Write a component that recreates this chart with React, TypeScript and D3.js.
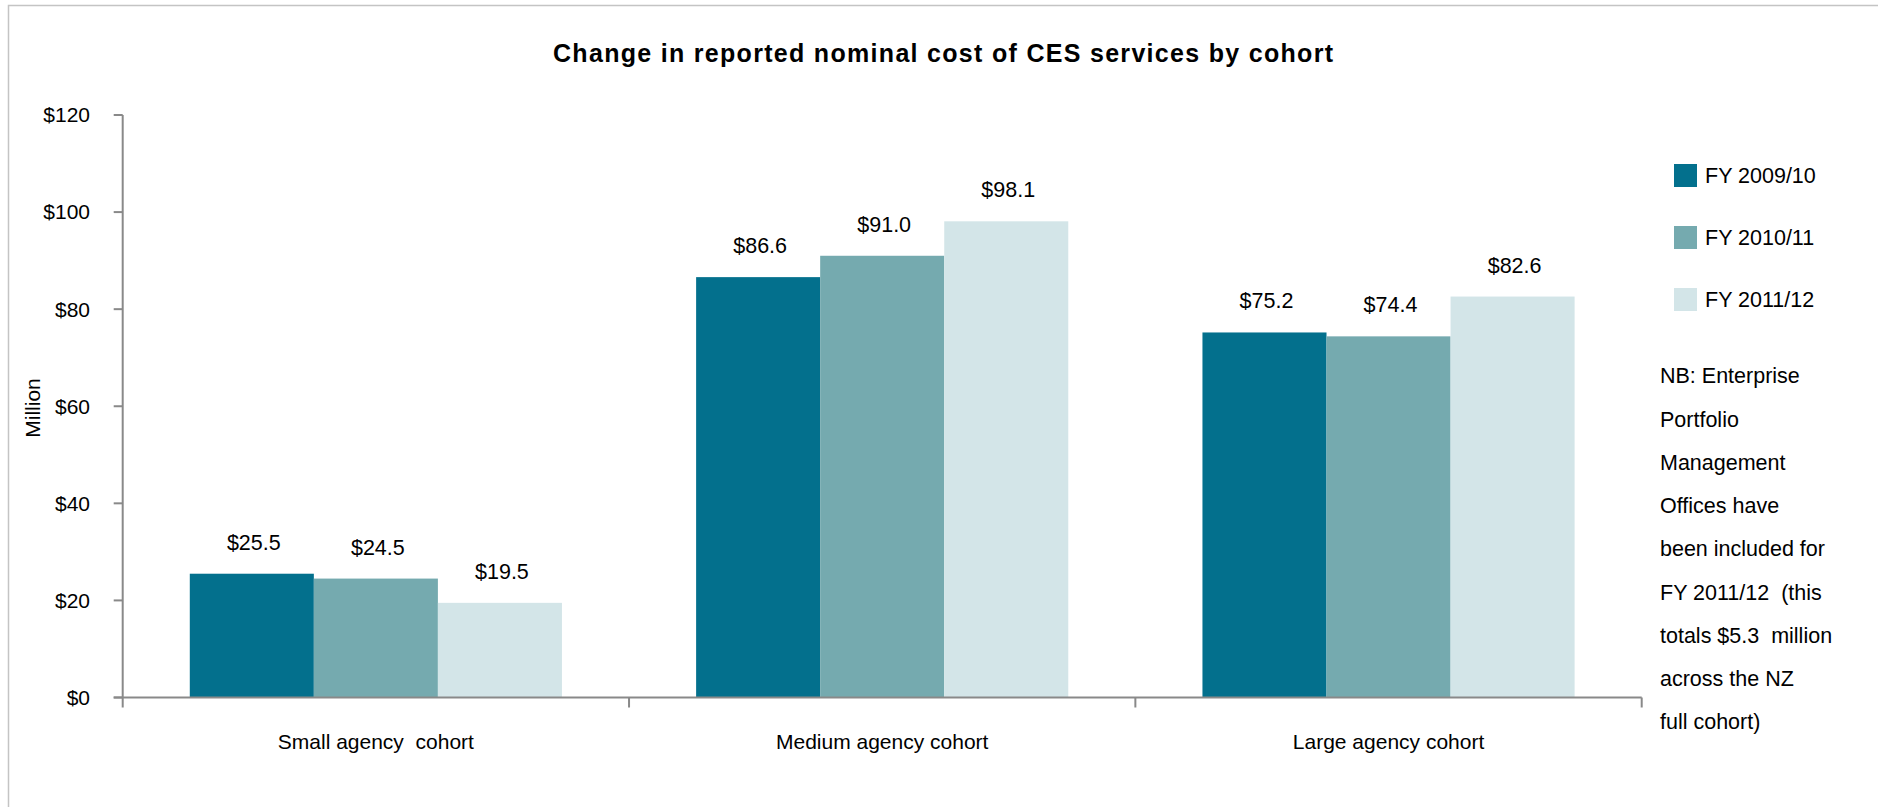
import React from "react";
import * as d3 from "d3";

const categories = ["Small agency  cohort", "Medium agency cohort", "Large agency cohort"];
const seriesNames = ["FY 2009/10", "FY 2010/11", "FY 2011/12"];
const fy0910 = [25.5, 86.6, 75.2];
const fy1011 = [24.5, 91.0, 74.4];
const fy1112 = [19.5, 98.1, 82.6];
const seriesValues = [fy0910, fy1011, fy1112];
const yTicks = [0, 20, 40, 60, 80, 100, 120];
const colors = ["#03708d", "#75aaaf", "#d3e5e8"];
const noteLines = [
  "NB: Enterprise",
  "Portfolio",
  "Management",
  "Offices have",
  "been included for",
  "FY 2011/12  (this",
  "totals $5.3  million",
  "across the NZ",
  "full cohort)",
];

const W = 1878;
const H = 807;
const FONT = "'Liberation Sans', Arial, Helvetica, sans-serif";

export default function App() {
  const left = 122.7;
  const right = 1641.7;
  const top = 115;
  const bottom = 697.5;

  const y = d3.scaleLinear().domain([0, 120]).range([bottom, top]);
  const x0 = d3
    .scaleBand<string>()
    .domain(categories)
    .range([left, right])
    .paddingInner(0.265)
    .paddingOuter(0.1325);
  const x1 = d3
    .scaleBand<string>()
    .domain(seriesNames)
    .range([0, x0.bandwidth()])
    .padding(0);
  const step = x0.step();
  const axisColor = "#898989";

  return (
    <svg
      width={W}
      height={H}
      style={{ position: "absolute", left: 0, top: 0, background: "#fff" }}
      fontFamily={FONT}
    >
      <rect x={0} y={0} width={W} height={H} fill="#fff" />
      <rect x={8.5} y={5.5} width={W + 20} height={H + 20} fill="none" stroke="#c4c4c4" strokeWidth={1.5} />

      <text
        x={943}
        y={61.5}
        textAnchor="middle"
        fontWeight="bold"
        fontSize={25}
        textLength={780}
        lengthAdjust="spacing"
        fill="#000"
      >
        Change in reported nominal cost of CES services by cohort
      </text>

      {/* bars */}
      {categories.map((c, ci) => (
        <g key={c} transform={`translate(${x0(c)},0)`}>
          {seriesNames.map((s, si) => {
            const v = seriesValues[si][ci];
            return (
              <g key={s}>
                <rect
                  x={x1(s)}
                  y={y(v)}
                  width={x1.bandwidth()}
                  height={y(0) - y(v)}
                  fill={colors[si]}
                />
                <text
                  x={(x1(s) as number) + x1.bandwidth() / 2 + 2}
                  y={y(v) - 24}
                  textAnchor="middle"
                  fontSize={21.5}
                  fill="#000"
                >
                  {"$" + v.toFixed(1)}
                </text>
              </g>
            );
          })}
        </g>
      ))}

      {/* y axis */}
      <line x1={left} x2={left} y1={top} y2={bottom} stroke={axisColor} strokeWidth={2} />
      {yTicks.map((t) => (
        <g key={t}>
          <line x1={left - 9} x2={left} y1={y(t)} y2={y(t)} stroke={axisColor} strokeWidth={2} />
          <text x={90} y={y(t)} dy="0.35em" textAnchor="end" fontSize={21} fill="#000">
            {"$" + t}
          </text>
        </g>
      ))}
      <text
        transform={`translate(33,408) rotate(-90)`}
        textAnchor="middle"
        dy="0.35em"
        fontSize={21}
        fill="#000"
      >
        Million
      </text>

      {/* x axis */}
      <line x1={left - 9} x2={right} y1={bottom} y2={bottom} stroke={axisColor} strokeWidth={2} />
      {d3.range(categories.length + 1).map((i) => (
        <line
          key={i}
          x1={left + i * step}
          x2={left + i * step}
          y1={bottom}
          y2={bottom + 10}
          stroke={axisColor}
          strokeWidth={2}
        />
      ))}
      {categories.map((c) => (
        <text
          key={c}
          x={(x0(c) as number) + x0.bandwidth() / 2}
          y={749}
          textAnchor="middle"
          fontSize={21}
          fill="#000"
          style={{ whiteSpace: "pre" }}
        >
          {c}
        </text>
      ))}

      {/* legend */}
      {seriesNames.map((s, i) => (
        <g key={s} transform={`translate(1674,${164 + i * 62})`}>
          <rect x={0} y={0} width={23} height={23} fill={colors[i]} />
          <text x={31} y={19} fontSize={21.5} fill="#000">
            {s}
          </text>
        </g>
      ))}

      {/* note */}
      {noteLines.map((l, i) => (
        <text
          key={i}
          x={1660}
          y={383.3 + i * 43.25}
          fontSize={21.5}
          fill="#000"
          style={{ whiteSpace: "pre" }}
        >
          {l}
        </text>
      ))}
    </svg>
  );
}
